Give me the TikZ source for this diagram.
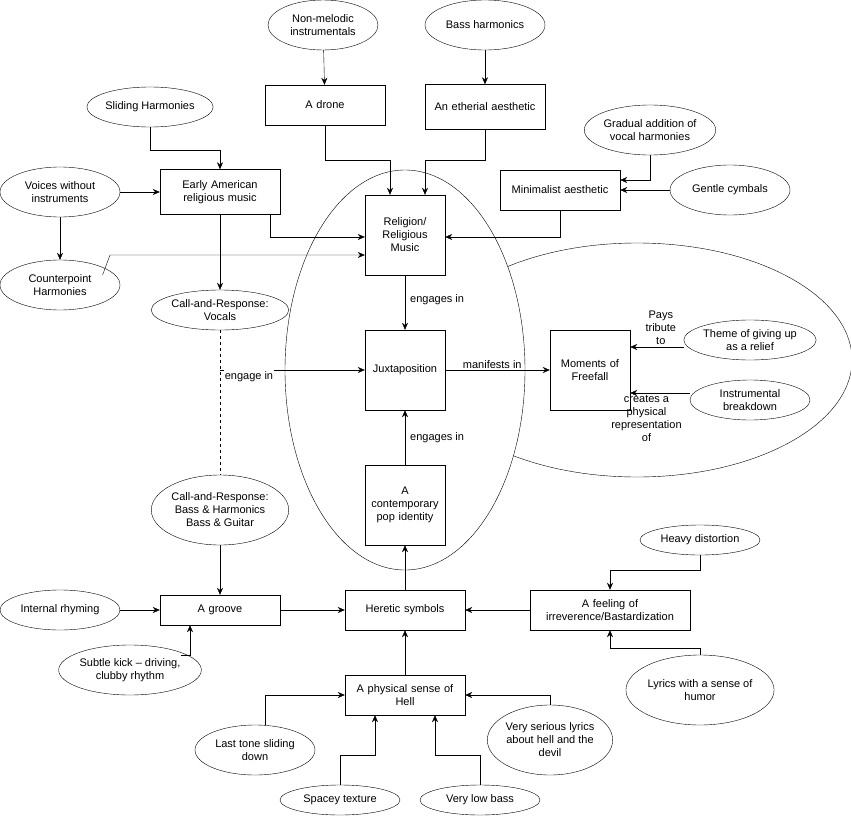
\documentclass[tikz,border=0pt]{standalone}
\usepackage{fontspec}
\setmainfont{Liberation Sans}
\usetikzlibrary{shapes.geometric,arrows.meta}
\begin{document}
\begin{tikzpicture}[x=1pt,y=-1pt,
  every node/.style={font=\fontsize{11}{13}\selectfont,align=center,inner sep=1pt},
  box/.style={draw,fill=white,minimum width=#1,text width=#1-8pt},
  ell/.style={draw,ellipse,fill=white,inner sep=0pt},
  arr/.style={-{Stealth[length=7pt,width=6pt]}},
  lbl/.style={fill=white,inner sep=1pt}]
\useasboundingbox (0,0) rectangle (851,816);
% big ellipses
\node[ell,minimum width=430,minimum height=234] (bigR) at (637,360) {};
\node[ell,minimum width=240,minimum height=400] (bigC) at (405,370) {};
% top
\node[ell,minimum width=110,minimum height=50] (nm) at (323,25) {Non-melodic\\instrumentals};
\node[ell,minimum width=120,minimum height=50] (bh) at (485,25) {Bass harmonics};
\node[box=120pt,minimum height=40] (dr) at (325,105) {A drone};
\node[box=120pt,minimum height=45] (et) at (485,107) {An etherial aesthetic};
\node[ell,minimum width=120,minimum height=40] (sh) at (150,107) {Sliding Harmonies};
\node[ell,minimum width=120,minimum height=50] (ga) at (650,130) {Gradual addition of\\vocal harmonies};
\node[box=120pt,minimum height=45] (ea) at (220,192) {Early American\\religious music};
\node[ell,minimum width=120,minimum height=50] (vw) at (60,192) {Voices without\\instruments};
\node[box=120pt,minimum height=40] (mi) at (560,190) {Minimalist aesthetic};
\node[ell,minimum width=120,minimum height=50] (gc) at (730,190) {Gentle cymbals};
\node[box=80pt,minimum height=80] (rel) at (405,235) {Religion/\\Religious\\Music};
\node[ell,minimum width=120,minimum height=50] (cp) at (60,285) {Counterpoint\\Harmonies};
\node[ell,minimum width=120,minimum height=40] (cv) at (220,310) {Call-and-Response:\\Vocals};
\node[box=80pt,minimum height=80] (jx) at (405,370) {Juxtaposition};
\node[box=80pt,minimum height=80] (mf) at (590,370) {Moments of\\Freefall};
\node[ell,minimum width=120,minimum height=40] (tg) at (750,340) {Theme of giving up\\as a relief};
\node[ell,minimum width=120,minimum height=40] (ib) at (750,400) {Instrumental\\breakdown};
\node[box=80pt,minimum height=80] (cpi) at (405,505) {A\\contemporary\\pop identity};
\node[ell,minimum width=120,minimum height=70] (cb) at (220,510) {Call-and-Response:\\Bass \& Harmonics\\Bass \& Guitar};
\node[ell,minimum width=120,minimum height=30] (hd) at (700,540) {Heavy distortion};
\node[ell,minimum width=120,minimum height=40] (ir) at (60,610) {Internal rhyming};
\node[box=120pt,minimum height=30] (gr) at (220,610) {A groove};
\node[box=120pt,minimum height=40] (hs) at (405,610) {Heretic symbols};
\node[box=160pt,minimum height=40] (fi) at (610,610) {A feeling of\\irreverence/Bastardization};
\node[ell,minimum width=120,minimum height=50] (sk) at (130,670) {Subtle kick -- driving,\\clubby rhythm};
\node[ell,minimum width=120,minimum height=70] (lh) at (700,690) {Lyrics with a sense of\\humor};
\node[box=120pt,minimum height=40] (ph) at (405,695) {A physical sense of\\Hell};
\node[ell,minimum width=120,minimum height=70] (vs) at (550,740) {Very serious lyrics\\about hell and the\\devil};
\node[ell,minimum width=120,minimum height=50] (lt) at (255,750) {Last tone sliding\\down};
\node[ell,minimum width=120,minimum height=30] (sp) at (340,800) {Spacey texture};
\node[ell,minimum width=120,minimum height=30] (vl) at (480,800) {Very low bass};
% coordinates
\coordinate (c1) at (325,160); \coordinate (c2) at (390,160);
\coordinate (c3) at (485,160); \coordinate (c4) at (425,160);
\coordinate (c5) at (150,150); \coordinate (c6) at (220,150);
\coordinate (c7) at (270,237); \coordinate (c8) at (110,255);
\coordinate (c9) at (650,180); \coordinate (c10) at (560,237);
\coordinate (c11) at (220,370); \coordinate (c12) at (190,655);
\coordinate (c13) at (700,570); \coordinate (c14) at (610,570);
\coordinate (c15) at (700,648); \coordinate (c16) at (610,648);
\coordinate (c17) at (265,695); \coordinate (c18) at (340,755);
\coordinate (c19) at (375,755); \coordinate (c20) at (480,755);
\coordinate (c21) at (435,755); \coordinate (c22) at (550,695);
% edges
\draw[arr] (nm) -- (dr);
\draw[arr] (bh) -- (et);
\draw[arr] (dr.south) -- (c1) -- (c2) -- (rel.north -| c2);
\draw[arr] (et.south) -- (c3) -- (c4) -- (rel.north -| c4);
\draw[arr] (sh.south) -- (c5) -- (c6) -- (ea.north);
\draw[arr] (vw) -- (ea);
\draw[arr] (vw) -- (cp);
\draw[arr] (ea.south -| c7) -- (c7) -- (rel.west |- c7);
\draw[arr] (ea.south) -- (cv.north);
\draw[arr] (cp.north east |- 0,275) -- (c8) -- (rel.west |- c8);
\draw[arr] (ga.south) -- (c9) -- (mi.east |- c9);
\draw[arr] (gc) -- (mi);
\draw[arr] (mi.south) -- (c10) -- (rel.east |- c10);
\draw[arr] (rel) -- node[lbl,right=4pt,pos=0.45]{engages in} (jx);
\draw[dashed] (cv) -- (cb);
\draw[arr] (c11) -- node[lbl,below,pos=0.2]{engage in} (jx);
\draw[arr] (jx) -- node[above,pos=0.45]{manifests in} (mf);
\draw[arr] (tg.west |- 0,347) -- node[above left=1pt,pos=0.1]{Pays\\tribute\\to} (mf.east |- 0,347);
\draw[arr] (ib.west |- 0,393) -- node[below left=1pt,pos=0.1]{creates a\\physical\\representation\\of} (mf.east |- 0,393);
\draw[arr] (cpi) -- node[lbl,right=4pt]{engages in} (jx);
\draw[arr] (hs) -- (cpi);
\draw[arr] (cb) -- (gr);
\draw[arr] (ir) -- (gr);
\draw[arr] (sk.north east |- c12) -- (c12) -- (gr.south -| c12);
\draw[arr] (gr) -- (hs);
\draw[arr] (hd.south) -- (c13) -- (c14) -- (fi.north);
\draw[arr] (fi) -- (hs);
\draw[arr] (lh.north) -- (c15) -- (c16) -- (fi.south);
\draw[arr] (ph) -- (hs);
\draw[arr] (lt.north -| c17) -- (c17) -- (ph.west);
\draw[arr] (sp.north) -- (c18) -- (c19) -- (ph.south -| c19);
\draw[arr] (vl.north) -- (c20) -- (c21) -- (ph.south -| c21);
\draw[arr] (vs.north) -- (c22) -- (ph.east);
\end{tikzpicture}
\end{document}
